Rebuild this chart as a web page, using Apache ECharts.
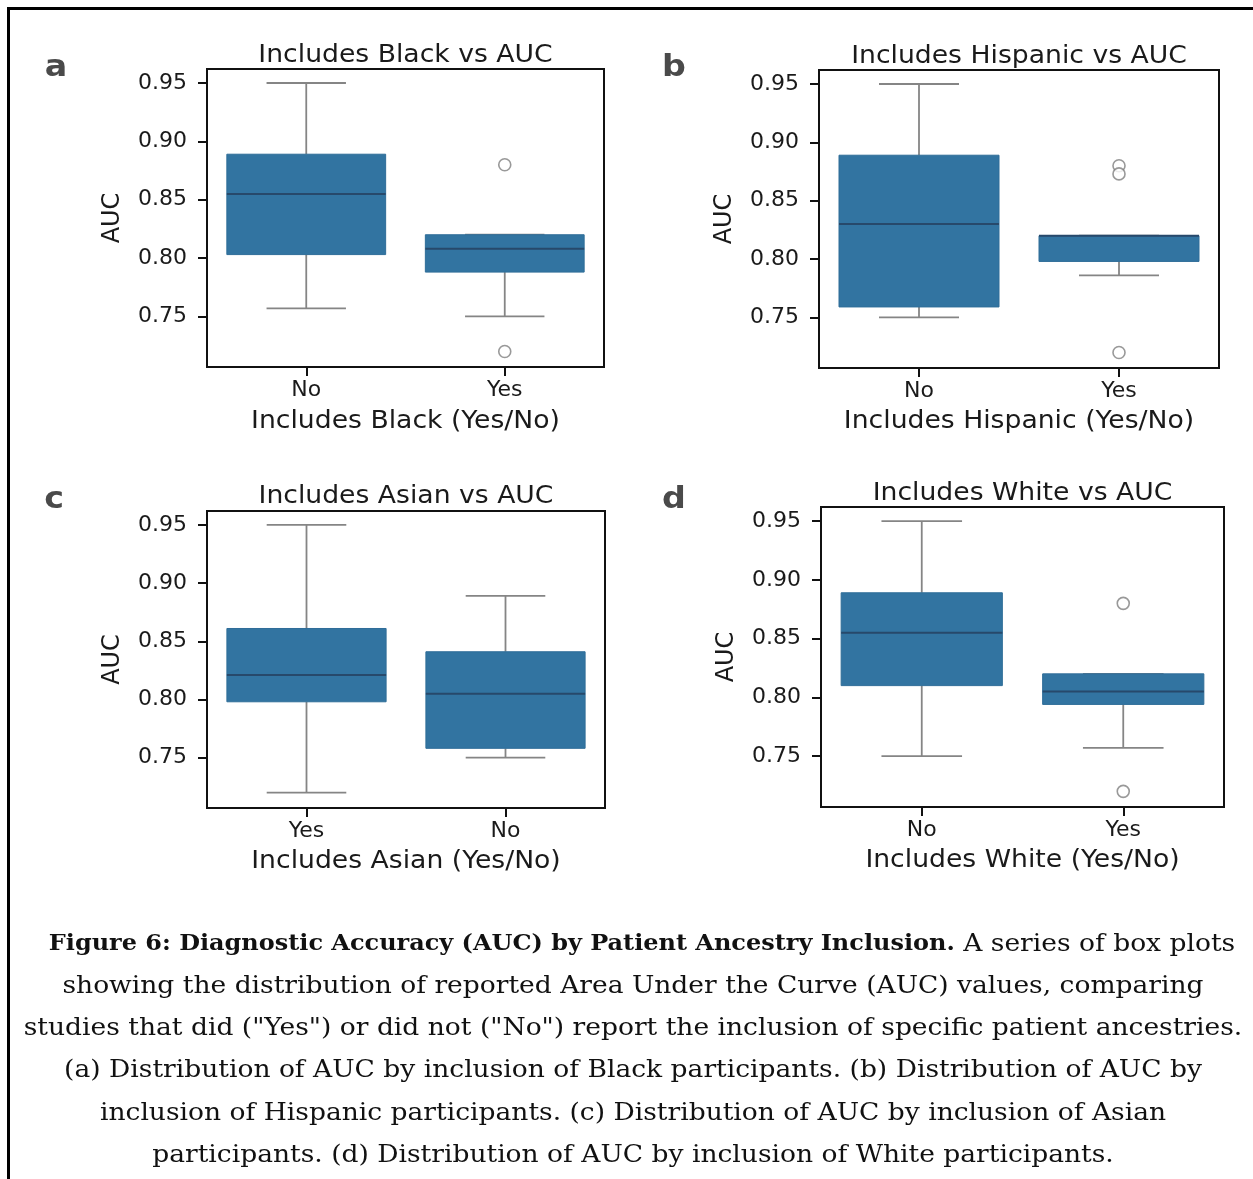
<!DOCTYPE html>
<html>
<head>
<meta charset="utf-8">
<script src="https://cdn.jsdelivr.net/npm/echarts@6/dist/echarts.min.js"></script>
<style>
  html, body { margin: 0; padding: 0; background: #fff; }
  #chart { width: 1253px; height: 1179px; }
</style>
</head>
<body>
<div id="chart"></div>
<script>
// ---------------- data ----------------
const panelLetters = ['a', 'b', 'c', 'd'];
const panelTitles = ['Includes Black vs AUC', 'Includes Hispanic vs AUC', 'Includes Asian vs AUC', 'Includes White vs AUC'];
const xAxisNames = ['Includes Black (Yes/No)', 'Includes Hispanic (Yes/No)', 'Includes Asian (Yes/No)', 'Includes White (Yes/No)'];
const yAxisName = 'AUC';
const yTicks = [0.75, 0.80, 0.85, 0.90, 0.95];

const catsBlack = ['No', 'Yes'];
const catsHispanic = ['No', 'Yes'];
const catsAsian = ['Yes', 'No'];
const catsWhite = ['No', 'Yes'];

// box stats per category: [lower whisker, Q1, median, Q3, upper whisker]
const boxBlack = [[0.757, 0.803, 0.855, 0.889, 0.95], [0.75, 0.788, 0.808, 0.82, 0.82]];
const boxHispanic = [[0.75, 0.759, 0.83, 0.889, 0.95], [0.786, 0.798, 0.82, 0.82, 0.82]];
const boxAsian = [[0.72, 0.798, 0.821, 0.861, 0.95], [0.75, 0.758, 0.805, 0.841, 0.889]];
const boxWhite = [[0.75, 0.81, 0.855, 0.889, 0.95], [0.757, 0.794, 0.805, 0.82, 0.82]];

// outliers: [category index, value]
const outBlack = [[1, 0.88], [1, 0.72]];
const outHispanic = [[1, 0.88], [1, 0.873], [1, 0.72]];
const outAsian = [];
const outWhite = [[1, 0.88], [1, 0.72]];

const captionBold = 'Figure 6: Diagnostic Accuracy (AUC) by Patient Ancestry Inclusion.';
const captionLines = [
  ' A series of box plots',
  'showing the distribution of reported Area Under the Curve (AUC) values, comparing',
  'studies that did ("Yes") or did not ("No") report the inclusion of specific patient ancestries.',
  '(a) Distribution of AUC by inclusion of Black participants. (b) Distribution of AUC by',
  'inclusion of Hispanic participants. (c) Distribution of AUC by inclusion of Asian',
  'participants. (d) Distribution of AUC by inclusion of White participants.'
];

// ---------------- layout / style ----------------
const cats = [catsBlack, catsHispanic, catsAsian, catsWhite];
const boxes = [boxBlack, boxHispanic, boxAsian, boxWhite];
const outs = [outBlack, outHispanic, outAsian, outWhite];

const grids = [
  { left: 207, top: 69, width: 397, height: 298 },
  { left: 819, top: 70, width: 400, height: 298 },
  { left: 207, top: 511, width: 398, height: 297 },
  { left: 821, top: 507, width: 403, height: 300 }
];
const titleBottoms = [68, 69, 509, 506];
const xNameCenters = [421.5, 421.5, 861.5, 860.5];
const letterPos = [[56, 83], [674, 83], [54, 515], [674, 515]];
const captionCenters = [642, 633, 633, 633, 633, 633];
const STRETCH = 1.11;     // the source figure is slightly stretched horizontally
const CAP_STRETCH = 1.105;

const SANS = '"DejaVu Sans", sans-serif';
const SERIF = '"DejaVu Serif", serif';
const BOX_FILL = '#3274a1';
const WHISKER = '#858585';
const MEDIAN = '#27496b';

function renderBox(params, api) {
  const x = api.value(0);
  const low = api.coord([x, api.value(1)]);
  const q1 = api.coord([x, api.value(2)]);
  const med = api.coord([x, api.value(3)]);
  const q3 = api.coord([x, api.value(4)]);
  const high = api.coord([x, api.value(5)]);
  const bw = api.size([1, 0])[0] * 0.8;
  const cx = low[0];
  const lw = 1.8;
  return {
    type: 'group',
    children: [
      { type: 'line', shape: { x1: cx, y1: q3[1], x2: cx, y2: high[1] }, style: { stroke: WHISKER, lineWidth: lw } },
      { type: 'line', shape: { x1: cx, y1: q1[1], x2: cx, y2: low[1] }, style: { stroke: WHISKER, lineWidth: lw } },
      { type: 'line', shape: { x1: cx - bw / 4, y1: high[1], x2: cx + bw / 4, y2: high[1] }, style: { stroke: WHISKER, lineWidth: lw } },
      { type: 'line', shape: { x1: cx - bw / 4, y1: low[1], x2: cx + bw / 4, y2: low[1] }, style: { stroke: WHISKER, lineWidth: lw } },
      { type: 'rect', shape: { x: cx - bw / 2, y: q3[1], width: bw, height: q1[1] - q3[1] }, style: { fill: BOX_FILL, stroke: '#2f6d98', lineWidth: 1 } },
      { type: 'line', shape: { x1: cx - bw / 2, y1: med[1], x2: cx + bw / 2, y2: med[1] }, style: { stroke: MEDIAN, lineWidth: 2 } }
    ]
  };
}

const option = {
  backgroundColor: '#fff',
  animation: false,
  grid: grids.map(g => Object.assign({ show: true, borderColor: '#111', borderWidth: 2, backgroundColor: 'transparent' }, g)),
  xAxis: cats.map((c, i) => ({
    type: 'category',
    gridIndex: i,
    data: c,
    axisLine: { show: false },
    axisTick: { show: true, alignWithLabel: true, length: 9, lineStyle: { color: '#111', width: 2 } },
    axisLabel: { fontFamily: SANS, fontSize: 22, color: '#1a1a1a', margin: 12 },
    splitLine: { show: false }
  })),
  yAxis: cats.map((c, i) => ({
    type: 'value',
    gridIndex: i,
    min: 0.7067,
    max: 0.962,
    name: yAxisName,
    nameLocation: 'middle',
    nameGap: 82,
    nameTextStyle: { fontFamily: SANS, fontSize: 24, color: '#1a1a1a' },
    axisLine: { show: false },
    axisTick: { show: true, length: 9, lineStyle: { color: '#111', width: 2 }, customValues: yTicks },
    axisLabel: { fontFamily: SANS, fontSize: 22, color: '#1a1a1a', margin: 20, customValues: yTicks, formatter: v => Number(v).toFixed(2) },
    splitLine: { show: false }
  })),
  series: [].concat(
    boxes.map((b, i) => ({
      type: 'custom',
      xAxisIndex: i,
      yAxisIndex: i,
      renderItem: renderBox,
      encode: { x: 0, y: [1, 2, 3, 4, 5] },
      data: b.map((s, k) => [k].concat(s)),
      z: 2
    })),
    outs.map((o, i) => ({
      type: 'scatter',
      xAxisIndex: i,
      yAxisIndex: i,
      data: o,
      symbol: 'circle',
      symbolSize: 12,
      itemStyle: { color: '#fff', borderColor: '#808080', borderWidth: 1.6 },
      z: 3
    }))
  ),
  graphic: [].concat(
    // figure frame (top and left rules)
    [
      { type: 'line', shape: { x1: 7, y1: 8.5, x2: 1253, y2: 8.5 }, style: { stroke: '#000', lineWidth: 3 } },
      { type: 'line', shape: { x1: 8.5, y1: 7, x2: 8.5, y2: 1179 }, style: { stroke: '#000', lineWidth: 3 } }
    ],
    panelTitles.map((t, i) => ({
      type: 'text',
      x: grids[i].left + grids[i].width / 2,
      y: titleBottoms[i],
      scaleX: STRETCH,
      style: { text: t, font: '24px ' + SANS, fill: '#1a1a1a', textAlign: 'center', textVerticalAlign: 'bottom' }
    })),
    xAxisNames.map((t, i) => ({
      type: 'text',
      x: grids[i].left + grids[i].width / 2,
      y: xNameCenters[i],
      scaleX: STRETCH,
      style: { text: t, font: '24px ' + SANS, fill: '#1a1a1a', textAlign: 'center', textVerticalAlign: 'middle' }
    })),
    panelLetters.map((t, i) => ({
      type: 'text',
      x: letterPos[i][0],
      y: letterPos[i][1],
      scaleX: STRETCH,
      style: { text: t, font: 'bold 30px ' + SANS, fill: '#4a4a4a', textAlign: 'center', textVerticalAlign: 'bottom' }
    })),
    captionLines.map((t, i) => ({
      type: 'text',
      x: captionCenters[i],
      y: 944.5 + i * 42.2,
      scaleX: CAP_STRETCH,
      style: i === 0 ? {
        text: '{b|' + captionBold + '}{n|' + t + '}',
        textAlign: 'center', textVerticalAlign: 'middle',
        rich: {
          b: { font: 'bold 21.7px ' + SERIF, fill: '#111' },
          n: { font: '24px ' + SERIF, fill: '#111' }
        }
      } : {
        text: t, font: '24px ' + SERIF, fill: '#111', textAlign: 'center', textVerticalAlign: 'middle'
      }
    }))
  )
};

const chart = echarts.init(document.getElementById('chart'), null, { renderer: 'canvas' });
chart.setOption(option);
</script>
</body>
</html>
